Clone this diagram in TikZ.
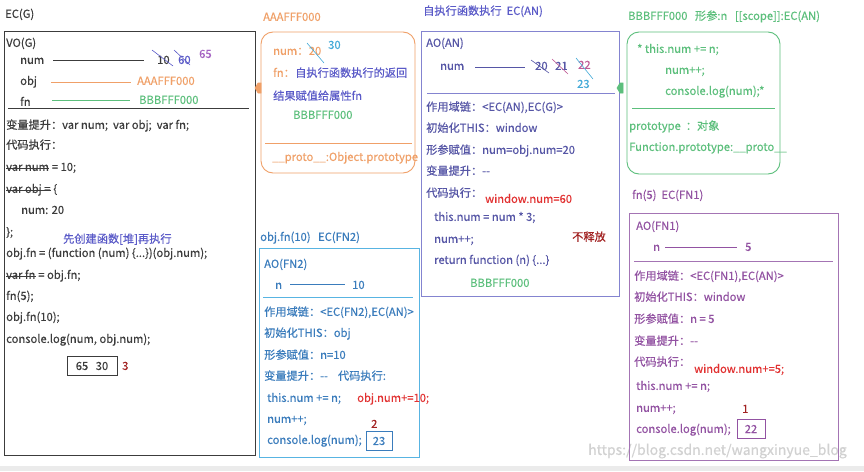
\documentclass[tikz,border=0pt]{standalone}
\usepackage{fontspec}
\usetikzlibrary{positioning}
\setmainfont{Noto Sans CJK SC}[FakeBold=0.35]
\definecolor{cgray}{HTML}{3C3C3C}
\definecolor{corange}{HTML}{F0A068}
\definecolor{cgreen}{HTML}{5CBF7C}
\definecolor{cblue}{HTML}{5A5AC8}
\definecolor{canbox}{HTML}{8484D0}
\definecolor{cantext}{HTML}{5656A6}
\definecolor{cfnbox}{HTML}{58B4E2}
\definecolor{cfntext}{HTML}{3A7CBC}
\definecolor{cfaabox}{HTML}{A474B4}
\definecolor{cfaatext}{HTML}{9252A2}
\definecolor{cred}{HTML}{E23232}
\definecolor{cdkred}{HTML}{A22222}
\definecolor{ccyan}{HTML}{44AAD8}
\definecolor{cpurple}{HTML}{A462C2}
\definecolor{cpink}{HTML}{C05C96}
\begin{document}
\begin{tikzpicture}[x=1pt,y=-1pt,
  t/.style={anchor=west,inner sep=0pt,text height=8pt,text depth=2.2pt,font=\fontsize{11.2}{13}\selectfont},
  frame/.style={line width=0.9pt},
  strike/.style={line width=0.6pt},
  link/.style={line width=0.8pt},
  valbox/.style={draw,inner sep=0pt,minimum height=19pt,font=\fontsize{11.2}{13}\selectfont},
  marker/.style={line width=0.6pt,fill=white}]
\useasboundingbox (0,0) rectangle (864,471);
\fill[white] (0,0) rectangle (864,471);
\fill[black!8] (0,466) rectangle (864,471);
% ---------- watermark ----------
\node[t,font=\fontsize{14}{16}\selectfont,text=black!18] (wm) at (588,452) {https://blog.csdn.net/wangxinyue\_blog};
% ================= EC(G) =================
\node[t,cgray] (ecg) at (5,15) {EC(G)};
\draw[frame,cgray] (4,31) rectangle (255,455);
\begin{scope}[every node/.style={t,text=cgray}]
\node (vog) at (6,44) {VO(G)};
\node (gnum) at (20,61) {num};
\node (g10) at (157,61) {10};
\node[text=cblue] (g60) at (178,61) {60};
\node[text=cpurple] (g65) at (199,55) {65};
\node (gobj) at (20,82) {obj};
\node[text=corange] (gaaa) at (137,82) {AAAFFF000};
\node (gfn) at (20,103) {fn};
\node[text=cgreen] (gbbb) at (139,101) {BBBFFF000};
\node (g1) at (6,126) {变量提升：var num;\ \ var obj;\ \ var fn;};
\node (g2) at (6,146) {代码执行：};
\node (g3a) at (6,168) {var num};
\node[right=0pt of g3a] (g3b) {\ = 10;};
\node (g4a) at (6,190) {var obj =};
\node[right=0pt of g4a] (g4b) {\ \{};
\node (g5) at (21,211) {num: 20};
\node (g6) at (6,233) {\};};
\node[text=cblue] (gnote) at (63,240) {先创建函数[堆]再执行};
\node (g7) at (6,254) {obj.fn = (function (num) \{...\})(obj.num);};
\node (g8a) at (6,276) {var fn};
\node[right=0pt of g8a] (g8b) {\ = obj.fn;};
\node (g9) at (6,297) {fn(5);};
\node (g10c) at (6,318) {obj.fn(10);};
\node (g11) at (6,340) {console.log(num, obj.num);};
\end{scope}
\node[valbox,cgray,minimum width=50pt] (gres) at (92,366) {65\ \ \ 30};
\node[t,text=cdkred] (g3) at (122,367) {3};
\coordinate (gl1a) at (53,60);  \coordinate (gl1b) at (144,60);
\coordinate (gl2a) at (51,82);  \coordinate (gl2b) at (131,82);
\coordinate (gl3a) at (52,100); \coordinate (gl3b) at (130,100);
\draw[link,cgray] (gl1a) -- (gl1b);
\draw[link,corange] (gl2a) -- (gl2b);
\draw[link,cgreen] (gl3a) -- (gl3b);
\draw[link,cgray] (8,108) -- (249,108);
\draw[cblue,strike] (152,50) -- (173,66);
\draw[cblue,strike] (174,50) -- (190,65);
\draw[cgray,strike] (g3a.west) -- (g3a.east);
\draw[cgray,strike] (g4a.west) -- (g4a.east);
\draw[cgray,strike] (g8a.west) -- (g8a.east);
% ================= AAAFFF000 =================
\node[t,text=corange] (aaa) at (263,18) {AAAFFF000};
\draw[frame,corange,rounded corners=12pt] (261,32) rectangle (415,173);
\node[t,text=corange] (anum) at (273,52) {num：};
\node[t,text=corange,right=0pt of anum] (a20) {20};
\node[t,text=ccyan] (a30) at (328,46) {30};
\draw[ccyan,strike] (307,43) -- (324,63);
\node[t,text=corange] (afn) at (273,74) {fn：};
\node[t,text=cblue,right=0pt of afn] (afn2) {自执行函数执行的返回};
\node[t,text=cblue] (afn3) at (273,97) {结果赋值给属性fn};
\node[t,text=cgreen] (abbb) at (293,116) {BBBFFF000};
\draw[link,corange] (265,143) -- (412,143);
\node[t,text=corange] (aproto) at (272,158) {\_\_proto\_\_:Object.prototype};
\coordinate (mka) at (259,88);
\draw[marker,corange] ([xshift=-4pt]mka) -- ([xshift=-1pt,yshift=-5pt]mka) -- ([xshift=2pt,yshift=-5pt]mka) -- ([xshift=2pt,yshift=5pt]mka) -- ([xshift=-1pt,yshift=5pt]mka) -- cycle;
% ================= EC(FN2) =================
\node[t,text=cfntext] (f2t) at (260,238) {obj.fn(10)\ \ \ EC(FN2)};
\draw[frame,cfnbox] (259,248) rectangle (419,457);
\begin{scope}[every node/.style={t,text=cfntext}]
\node (f2ao) at (264,265) {AO(FN2)};
\node (f2n) at (275,286) {n};
\node (f2v) at (352,286) {10};
\node (f2a) at (264,313) {作用域链：<EC(FN2),EC(AN)>};
\node (f2b) at (264,334) {初始化THIS：obj};
\node (f2c) at (264,356) {形参赋值：n=10};
\node (f2d) at (264,377) {变量提升：-{}-\ \ \ \ 代码执行:};
\node (f2e) at (267,399) {this.num += n;};
\node (f2f) at (267,420) {num++;};
\node (f2g) at (267,441) {console.log(num);};
\end{scope}
\node[t,text=cred] (f2r) at (357,399) {obj.num+=10;};
\node[t,text=cdkred] (f2two) at (371,425) {2};
\node[valbox,cfntext,minimum width=26pt] (f2res) at (379,441) {23};
\coordinate (f2la) at (290,284); \coordinate (f2lb) at (345,284);
\draw[link,cfntext] (f2la) -- (f2lb);
\draw[link,cfnbox] (263,297) -- (413,297);
% ================= EC(AN) =================
\node[t,text=cblue] (ant) at (423,12) {自执行函数执行\ \ EC(AN)};
\draw[frame,canbox] (421,31) rectangle (619,296);
\begin{scope}[every node/.style={t,text=cantext}]
\node (anao) at (426,44) {AO(AN)};
\node (annum) at (440,67) {num};
\node (an20) at (535,67) {20};
\node (an21) at (555,67) {21};
\node[text=cpink] (an22) at (578,66) {22};
\node[text=ccyan] (an23) at (577,85) {23};
\node (ana) at (426,108) {作用域链：<EC(AN),EC(G)>};
\node (anb) at (426,129) {初始化THIS：window};
\node (anc) at (426,151) {形参赋值：num=obj.num=20};
\node (and) at (426,172) {变量提升：-{}-};
\node (ane) at (426,194) {代码执行：};
\node (anf) at (434,218) {this.num = num * 3;};
\node (ang) at (434,240) {num++;};
\node (anh) at (434,261) {return function (n) \{...\}};
\end{scope}
\node[t,text=cred] (anw) at (485,200) {window.num=60};
\node[t,text=cdkred] (anfree) at (572,238) {不释放};
\node[t,text=cgreen] (anbbb) at (470,284) {BBBFFF000};
\coordinate (anla) at (475,67); \coordinate (anlb) at (525,67);
\draw[link,cantext] (anla) -- (anlb);
\draw[cantext,strike] (531,60) -- (549,73);
\draw[cpink,strike] (552,59) -- (568,74);
\draw[ccyan,strike] (576,58) -- (593,79);
\draw[link,canbox] (427,93) -- (615,93);
% ================= BBBFFF000 =================
\node[t,text=cgreen] (bt) at (628,17) {BBBFFF000\ \ \ 形参:n\ \ \ [[scope]]:EC(AN)};
\draw[frame,cgreen,rounded corners=12pt] (627,32) rectangle (780,174);
\begin{scope}[every node/.style={t,text=cgreen}]
\node (b1) at (637,50) {* this.num += n;};
\node (b2) at (665,71) {num++;};
\node (b3) at (665,92) {console.log(num);*};
\node (b4) at (629,127) {prototype\ \ ：对象};
\node (b5) at (629,148) {Function.prototype:\_\_proto\_\_};
\end{scope}
\draw[link,cgreen] (632,108) -- (775,108);
\coordinate (mkb) at (621,88);
\draw[marker,cgreen] ([xshift=-4pt]mkb) -- ([xshift=-1pt,yshift=-5pt]mkb) -- ([xshift=2pt,yshift=-5pt]mkb) -- ([xshift=2pt,yshift=5pt]mkb) -- ([xshift=-1pt,yshift=5pt]mkb) -- cycle;
% ================= EC(FN1) =================
\node[t,text=cfaatext] (f1t) at (632,196) {fn(5)\ \ EC(FN1)};
\draw[frame,cfaabox] (629,213) rectangle (838,460);
\begin{scope}[every node/.style={t,text=cfaatext}]
\node (f1ao) at (636,227) {AO(FN1)};
\node (f1n) at (653,248) {n};
\node (f1v) at (745,248) {5};
\node (f1a) at (634,277) {作用域链：<EC(FN1),EC(AN)>};
\node (f1b) at (634,298) {初始化THIS：window};
\node (f1c) at (634,320) {形参赋值：n = 5};
\node (f1d) at (634,342) {变量提升：-{}-};
\node (f1e) at (634,363) {代码执行：};
\node (f1f) at (636,387) {this.num += n;};
\node (f1g) at (636,409) {num++;};
\node (f1h) at (636,430) {console.log(num);};
\end{scope}
\node[t,text=cred] (f1w) at (694,370) {window.num+=5;};
\node[t,text=cdkred] (f1one) at (742,410) {1};
\node[valbox,cfaatext,minimum width=28pt] (f1res) at (751,429) {22};
\coordinate (f1la) at (665,247); \coordinate (f1lb) at (737,247);
\draw[link,cfaatext] (f1la) -- (f1lb);
\draw[link,cfaabox] (634,261) -- (833,261);
\end{tikzpicture}
\end{document}
